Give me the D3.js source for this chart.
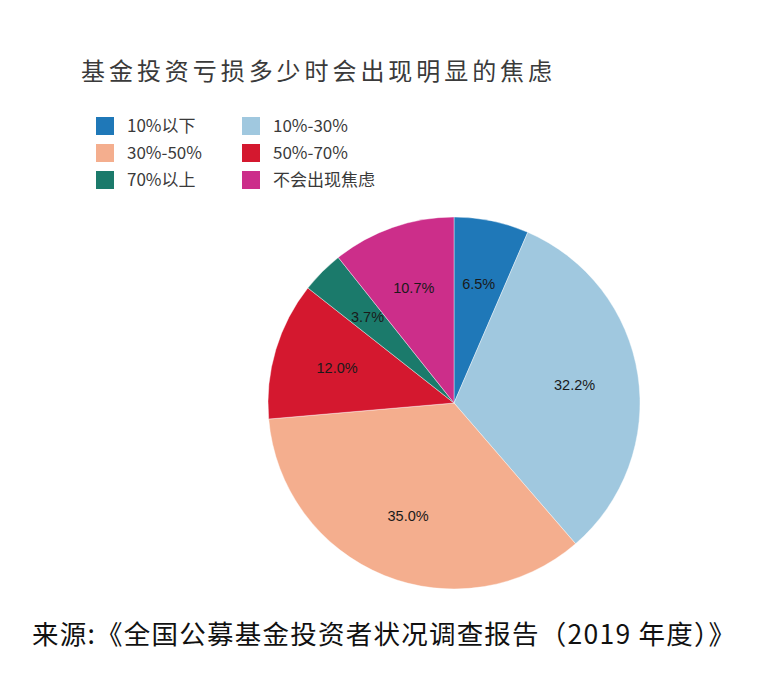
<!DOCTYPE html>
<html><head><meta charset="utf-8">
<script src="https://cdn.jsdelivr.net/npm/d3@7"></script>
<style>
html,body{margin:0;padding:0;background:#fff;}
svg{display:block;font-family:"Noto Sans CJK SC","Noto Sans",sans-serif;}
</style></head>
<body>
<svg id="chart" width="766" height="678"></svg>
<script>
const categories = ["10%以下","10%-30%","30%-50%","50%-70%","70%以上","不会出现焦虑"];
const values = [6.5, 32.2, 35.0, 12.0, 3.7, 10.7];
const colors = ["#1f78b8","#a0c8df","#f4ae8e","#d4182f","#1b7a6b","#cc2e8a"];
const titleText = "基金投资亏损多少时会出现明显的焦虑";
const sourceText = "来源:《全国公募基金投资者状况调查报告（2019 年度）》";

const svg = d3.select("#chart");
svg.append("rect").attr("width",766).attr("height",678).attr("fill","#fff");

svg.append("text").attr("x",81).attr("y",80)
  .attr("font-size",24).attr("fill","#3a3a3a")
  .attr("textLength",471).attr("lengthAdjust","spacing")
  .text(titleText);

// legend
const legend = svg.append("g");
categories.forEach((c,i)=>{
  const col = i%2, row = Math.floor(i/2);
  const x = 96 + col*146, y = 117 + row*27;
  legend.append("rect").attr("x",x).attr("y",y).attr("width",18).attr("height",18).attr("fill",colors[i]);
  legend.append("text").attr("x",x+31).attr("y",y+15).attr("font-size",17).attr("fill","#3a3a3a").text(c);
});

const cx = 454, cy = 403, R = 186;
const pie = d3.pie().sort(null).value(d=>d);
const arcs = pie(values);
const arc = d3.arc().innerRadius(0).outerRadius(R);
const labelArc = d3.arc().innerRadius(122).outerRadius(122);
const g = svg.append("g").attr("transform",`translate(${cx},${cy})`);
g.selectAll("path").data(arcs).join("path")
  .attr("d",arc).attr("fill",(d,i)=>colors[i]).attr("stroke","#fff").attr("stroke-width",0.4);
g.selectAll("text.lbl").data(arcs).join("text").attr("class","lbl")
  .attr("transform",d=>`translate(${labelArc.centroid(d)})`)
  .attr("text-anchor","middle").attr("dy","0.35em")
  .attr("font-family","Liberation Sans, Arial, sans-serif")
  .attr("font-size",14.5).attr("fill","#1a1a1a")
  .text(d=>d.data.toFixed(1)+"%");

svg.append("text").attr("x",32).attr("y",644)
  .attr("font-size",26.5).attr("fill","#111")
  .attr("textLength",703).attr("lengthAdjust","spacing")
  .text(sourceText);
</script>
</body></html>
